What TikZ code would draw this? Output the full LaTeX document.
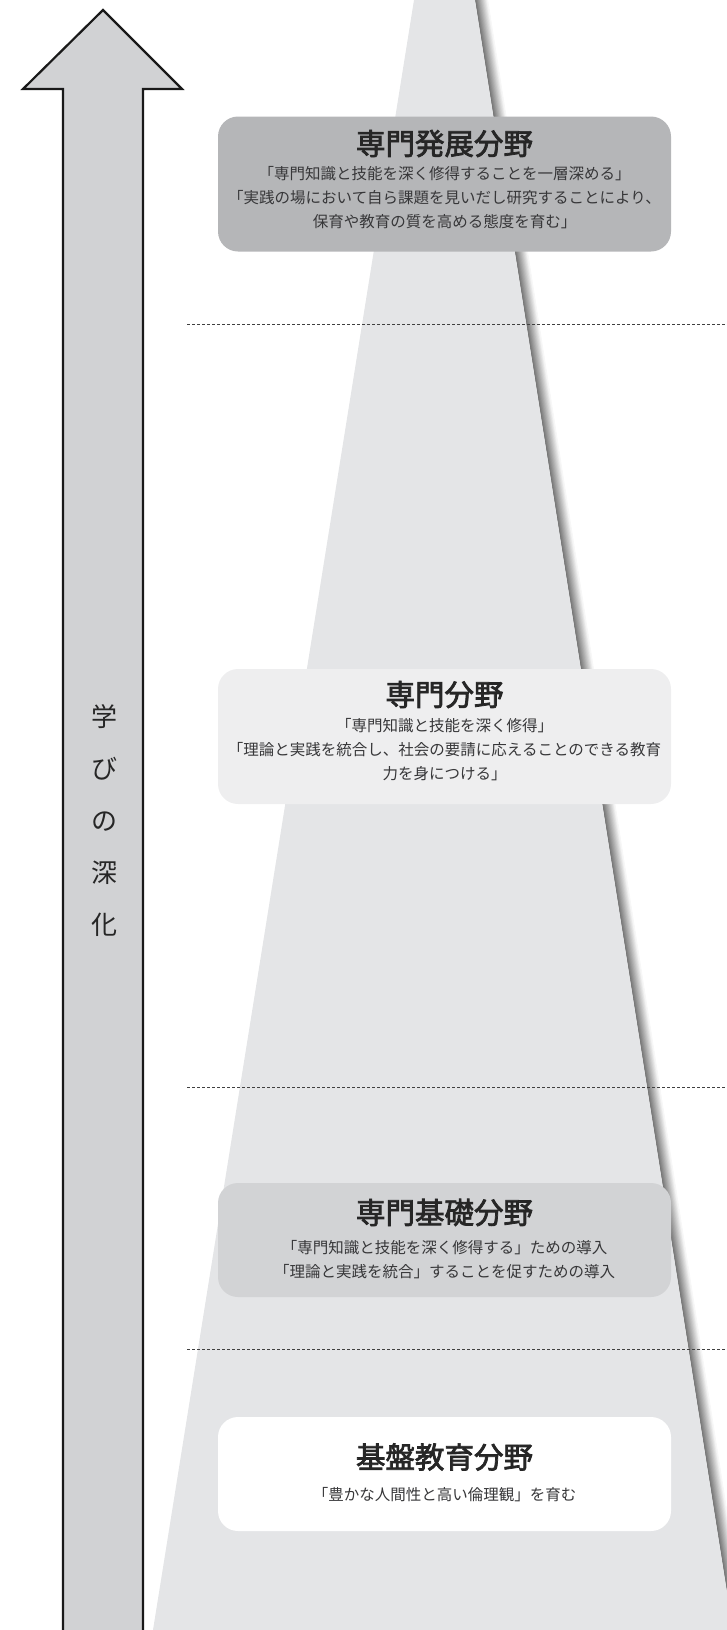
\documentclass[tikz,border=0pt]{standalone}
\usepackage{fontspec}
\setmainfont{Noto Sans CJK JP}
\newfontfamily\titlefont[FakeBold=2.5]{Noto Sans CJK JP}
\usetikzlibrary{positioning}
\definecolor{wedgegray}{RGB}{228,229,231}
\definecolor{arrowgray}{RGB}{209,210,212}
\definecolor{devgray}{RGB}{181,182,184}
\definecolor{specgray}{RGB}{238,238,239}
\definecolor{basegray}{RGB}{210,211,213}
\definecolor{textgray}{RGB}{55,55,57}

\begin{document}
\begin{tikzpicture}[x=1pt,y=-1pt,
    field/.style={rounded corners=20pt,minimum width=453pt,inner sep=0pt},
    title/.style={font=\titlefont\fontsize{29.5}{32}\selectfont,text=black!85,inner sep=0pt},
    body/.style={font=\fontsize{15.5}{24}\selectfont,text=textgray,align=center,inner sep=0pt},
    divider/.style={draw=black!75,line width=1pt,dash pattern=on 3pt off 2pt},
    bigarrow/.style={draw=black!90,fill=arrowgray,line width=2.2pt,miter limit=10}
  ]
  \useasboundingbox (0,0) rectangle (727,1630);

  % shadow and wedge
  \foreach \i in {0,...,20}{
    \pgfmathsetmacro{\shade}{55-2.6*\i}
    \draw[black!\shade,line width=1.2pt] (475.5+0.6*\i,0) -- (733.5+0.6*\i,1630);
  }
  \fill[wedgegray] (414,0) -- (475,0) -- (733,1630) -- (153,1630) -- cycle;

  % dividers
  \draw[divider] (187,324.5) -- (727,324.5);
  \draw[divider] (187,1087.5) -- (727,1087.5);
  \draw[divider] (187,1349) -- (727,1349);

  % fields
  \node[field,fill=devgray,minimum height=135pt] (devbox) at (444.5,184) {};
  \node[title] (devtitle) at (444.5,143.5) {専門発展分野};
  \node[body] (devtext) at (444.5,197.5) {「専門知識と技能を深く修得することを一層深める」\\
    「実践の場において自ら課題を見いだし研究することにより、\\
    保育や教育の質を高める態度を育む」};

  \node[field,fill=specgray,minimum height=135pt] (specbox) at (444.5,736.5) {};
  \node[title] (spectitle) at (444.5,694.5) {専門分野};
  \node[body] (spectext) at (444.5,750) {「専門知識と技能を深く修得」\\
    「理論と実践を統合し、社会の要請に応えることのできる教育\\
    力を身につける」};

  \node[field,fill=basegray,minimum height=114pt] (basebox) at (444.5,1240) {};
  \node[title] (basetitle) at (444.5,1212.5) {専門基礎分野};
  \node[body] (basetext) at (444.5,1260) {「専門知識と技能を深く修得する」ための導入\\
    「理論と実践を統合」することを促すための導入};

  \node[field,fill=white,minimum height=114pt] (genbox) at (444.5,1474) {};
  \node[title] (gentitle) at (444.5,1457) {基盤教育分野};
  \node[body] (gentext) at (444.5,1495) {「豊かな人間性と高い倫理観」を育む};

  % arrow
  \draw[bigarrow] (63,1634) -- (63,89) -- (23,89) -- (103,10) -- (182,89) -- (143,89) -- (143,1634);
  \node[font=\fontsize{26}{52}\selectfont,text=black!85,align=center,inner sep=0pt] (deepen) at (104,820.5) {学\\び\\の\\深\\化};
\end{tikzpicture}
\end{document}
